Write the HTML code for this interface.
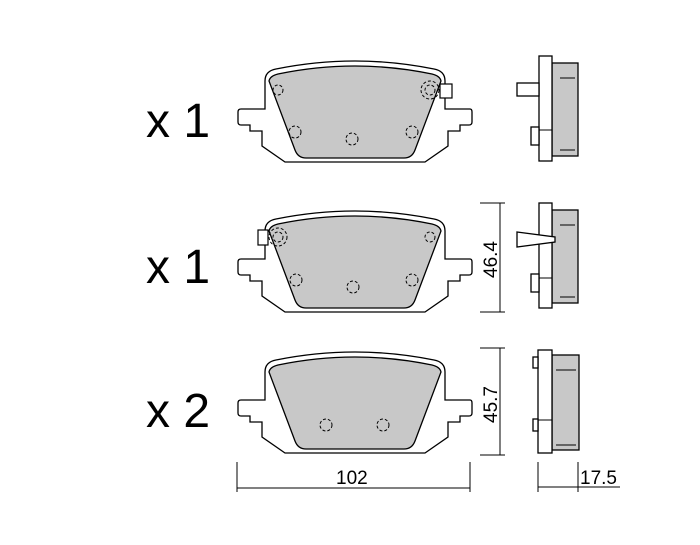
<!DOCTYPE html>
<html><head><meta charset="utf-8"><style>
html,body{margin:0;padding:0;background:#fff;}
svg{display:block;}
text{font-family:"Liberation Sans",sans-serif;fill:#000;}
</style></head><body>
<svg width="700" height="545" viewBox="0 0 700 545" xmlns="http://www.w3.org/2000/svg">
<defs>
<g id="plate">
<path d="M265,400 L265,372 Q265,362 276,360 Q355,344 434,360 Q445,362 445,372 L445,400 L470,400 Q472,400 472,403 L472,413 Q472,416 469,416 L460,416 L460,422 L448,422 L448,437 L425,453 L285,453 L262,437 L262,422 L250,422 L250,416 L241,416 Q238,416 238,413 L238,403 Q238,400 241,400 Z" fill="#fff" stroke="#000" stroke-width="1.3"/>
<path d="M269,372 Q270,367 278,365 Q355,349 432,365 Q440,367 441,372 L415,441 Q412,449 404,449 L306,449 Q298,449 295,441 Z" fill="#c8c8c8" stroke="#000" stroke-width="1.3"/>
</g>
</defs>
<use href="#plate" transform="translate(0,-291)"/>
<use href="#plate" transform="translate(0,-141)"/>
<use href="#plate"/>
<g fill="none" stroke="#000" stroke-width="1" stroke-dasharray="3,2">
<circle cx="278" cy="90" r="5"/><circle cx="430" cy="90" r="5"/><circle cx="430" cy="90" r="9"/>
<circle cx="295" cy="132" r="6"/><circle cx="352" cy="139" r="6"/><circle cx="412" cy="132" r="6"/>
<circle cx="278" cy="237" r="5"/><circle cx="278" cy="237" r="9"/><circle cx="430" cy="237" r="5"/>
<circle cx="296" cy="280" r="6"/><circle cx="353" cy="287" r="6"/><circle cx="412" cy="280" r="6"/>
<circle cx="326" cy="425" r="6"/><circle cx="383" cy="425" r="6"/>
</g>
<g fill="#fff" stroke="#000" stroke-width="1.2">
<rect x="440" y="84" width="12" height="14"/><rect x="258" y="230" width="10" height="15"/>
</g>
<g stroke="#000" stroke-width="1.3">
<rect x="552" y="63" width="26" height="93" fill="#c8c8c8"/>
<rect x="539" y="56" width="13" height="105" fill="#fff"/>
<rect x="517" y="83" width="22" height="13" fill="#fff"/>
<rect x="531" y="127" width="8" height="18" fill="#fff"/>
<rect x="552" y="210" width="26" height="93" fill="#c8c8c8"/>
<rect x="539" y="203" width="13" height="105" fill="#fff"/>
<path d="M517,232 L555,237 L555,242 L517,247 Z" fill="#fff"/>
<rect x="531" y="274" width="8" height="18" fill="#fff"/>
<rect x="552" y="355" width="27" height="95" fill="#c8c8c8"/>
<rect x="538" y="350" width="14" height="103" fill="#fff"/>
<rect x="533" y="357" width="5" height="11" fill="#fff"/>
<rect x="533" y="419" width="5" height="12" fill="#fff"/>
</g>
<g stroke="#000" stroke-width="1">
<line x1="560" y1="78" x2="575" y2="78"/><line x1="560" y1="150" x2="575" y2="150"/>
<line x1="560" y1="225" x2="575" y2="225"/><line x1="560" y1="297" x2="575" y2="297"/>
<line x1="556" y1="370" x2="576" y2="370"/><line x1="556" y1="445" x2="576" y2="445"/>
<line x1="539" y1="130" x2="552" y2="130"/><line x1="539" y1="278" x2="552" y2="278"/><line x1="538" y1="420" x2="552" y2="420"/>
<line x1="500" y1="203" x2="500" y2="312"/><line x1="480" y1="203" x2="505" y2="203"/><line x1="480" y1="312" x2="505" y2="312"/>
<line x1="500" y1="348" x2="500" y2="455"/><line x1="480" y1="348" x2="505" y2="348"/><line x1="480" y1="455" x2="505" y2="455"/>
<line x1="237" y1="488" x2="470" y2="488"/><line x1="237" y1="462" x2="237" y2="492"/><line x1="470" y1="462" x2="470" y2="492"/>
<line x1="538" y1="487" x2="620" y2="487"/><line x1="538" y1="462" x2="538" y2="492"/><line x1="578" y1="462" x2="578" y2="492"/>
</g>
<text x="146" y="137" font-size="48">x 1</text>
<text x="146" y="283" font-size="48">x 1</text>
<text x="146" y="427" font-size="48">x 2</text>
<text x="336" y="484" font-size="19">102</text>
<text x="580" y="484" font-size="19">17.5</text>
<text transform="translate(497,278) rotate(-90)" font-size="19">46.4</text>
<text transform="translate(497,423) rotate(-90)" font-size="19">45.7</text>
</svg>
</body></html>
